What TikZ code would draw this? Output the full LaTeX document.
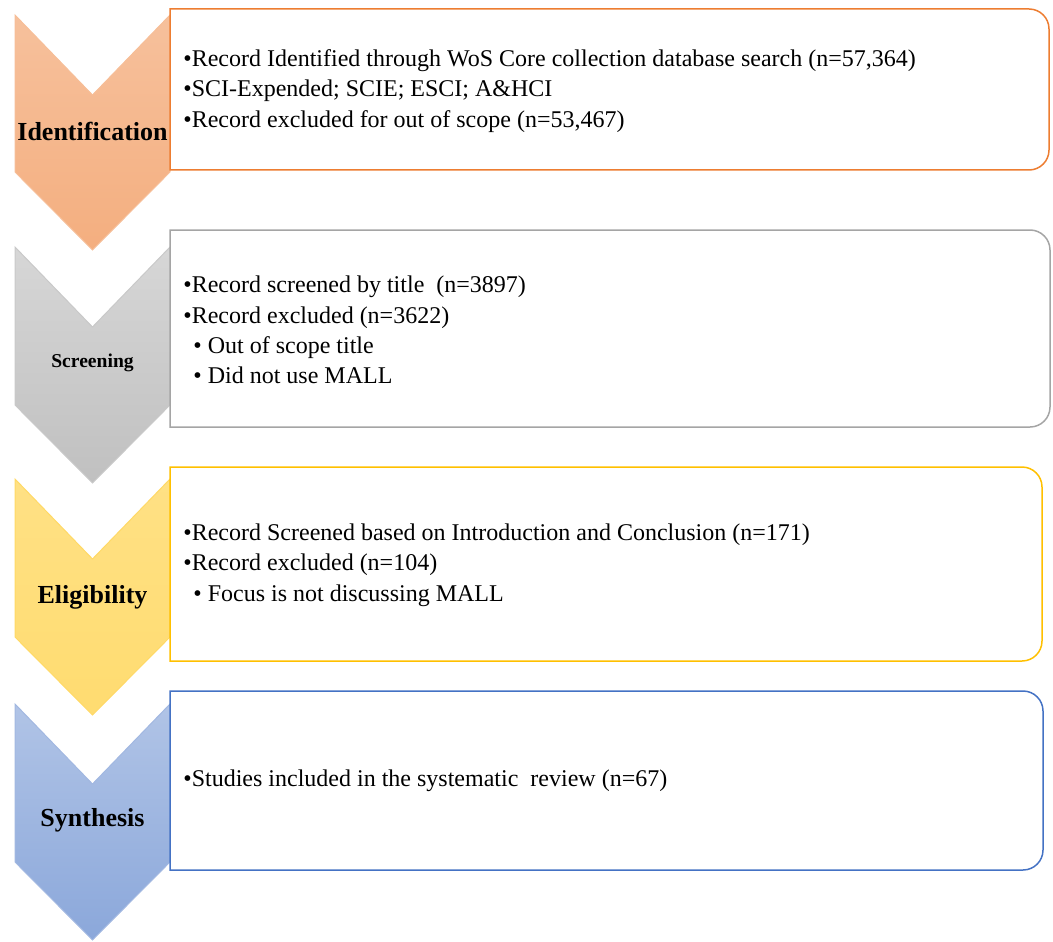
\documentclass[tikz,border=0pt]{standalone}
\usepackage{fontspec}
\setmainfont{Liberation Serif}

\definecolor{idline}{HTML}{ED7D31}
\definecolor{scline}{HTML}{A5A5A5}
\definecolor{elline}{HTML}{FFC000}
\definecolor{syline}{HTML}{4472C4}

% chevron: #1 top, #2 tip, #3 top colour, #4 bottom colour, #5 line
\newcommand{\chev}[5]{%
  \shade[top color=#3,bottom color=#4,draw=#5,line width=0.5pt]
    (15,#1) -- (92.5,#1+80) -- (170,#1) -- (170,#2-78)
    -- (92.5,#2) -- (15,#2-78) -- cycle;}

% box with the right corners rounded
\newcommand{\stagebox}[4]{%
  \draw[#4,line width=0.75pt,fill=white]
    (170,#3) -- (170,#2) [rounded corners=10pt]-- (#1,#2)
    -- (#1,#3) [sharp corners]-- cycle;}

\begin{document}
\begin{tikzpicture}[x=0.5pt,y=-0.5pt,
    stage/.style={font=\bfseries\fontsize{13}{15}\selectfont},
    note/.style={anchor=west,align=left,inner sep=0pt,
      font=\fontsize{12}{15.2}\selectfont}]
  \useasboundingbox (0,0) rectangle (1053,941);

  \chev{15}{250}{idline!48}{idline!62}{idline!50}
  \chev{247}{483}{scline!45}{scline!70}{scline!60}
  \chev{479}{715}{elline!48}{elline!56}{elline!60}
  \chev{704}{940}{syline!42}{syline!62}{syline!50}

  \stagebox{1049}{9}{170}{idline}
  \stagebox{1050}{230}{427}{scline}
  \stagebox{1042}{467}{661}{elline}
  \stagebox{1043}{691}{870}{syline}

  \node[stage] (ident) at (92.5,131) {Identification};
  \node[stage,font=\bfseries\fontsize{9.8}{12}\selectfont] (screen) at (92.5,363) {Screening};
  \node[stage] (elig) at (92.5,597) {Eligibility};
  \node[stage] (synth) at (92.5,820) {Synthesis};

  \node[note] (identtxt) at (183,91) {%
    •Record Identified through WoS Core collection database search (n=57,364)\\
    •SCI-Expended; SCIE; ESCI;\ A\&HCI\\
    •Record excluded for out of scope (n=53,467)};
  \node[note] (screentxt) at (183,330) {%
    •Record screened by title\ \ (n=3897)\\
    •Record excluded (n=3622)\\
    \hspace*{5pt}• Out of scope title\\
    \hspace*{5pt}• Did not use MALL};
  \node[note] (eligtxt) at (183,565) {%
    •Record Screened based on Introduction and Conclusion (n=171)\\
    •Record excluded (n=104)\\
    \hspace*{5pt}• Focus is not discussing MALL};
  \node[note] (synthtxt) at (183,781) {%
    •Studies included in the systematic\ \ review (n=67)};
\end{tikzpicture}
\end{document}
